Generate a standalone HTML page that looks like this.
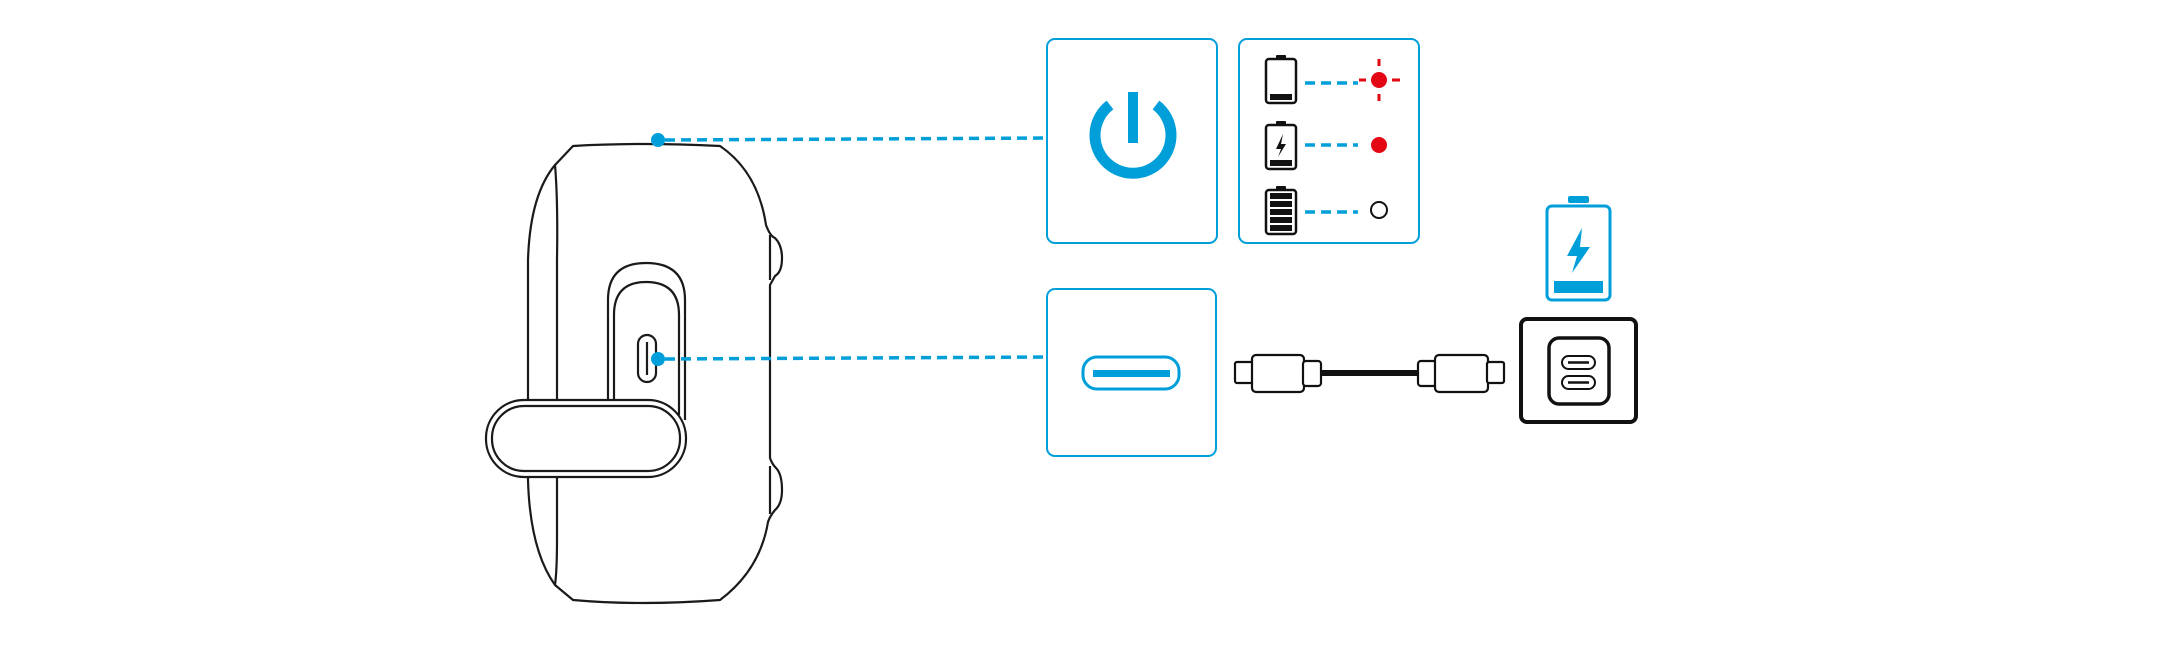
<!DOCTYPE html>
<html><head><meta charset="utf-8"><style>html,body{margin:0;padding:0;background:#fff}svg{display:block}</style></head>
<body>
<svg width="2180" height="648" viewBox="0 0 2180 648" xmlns="http://www.w3.org/2000/svg">
<g fill="none" stroke="#1a1a1a" stroke-width="2.2" stroke-linejoin="round">
 <!-- device body -->
 <path d="M573,146 Q640,142 720,146 Q758,172 766,225 Q770,236 775,238 Q782,245 782,258 Q782,272 775,276 L770,285 L770,458 Q772,464 776,468 Q782,474 782,490 Q782,504 775,510 Q770,516 768,522 Q760,570 720,600 Q640,606 573,600 L555,585 Q530,550 528,480 L528,260 Q530,195 555,165 Z"/>
 <path d="M555,165 Q558,200 557,260 L557,400"/>
 <path d="M557,477 L557,540 Q557,570 555,585"/>
 <path d="M770,235 L770,280 M770,466 L770,514"/>
 <!-- slot -->
 <path d="M608,400 L608,300 Q608,263 646,263 Q685,263 685,300 L685,420"/>
 <path d="M614,400 L614,315 Q614,282 646,282 Q679,282 679,315 L679,415"/>
 <rect x="638" y="335" width="18" height="47" rx="9"/>
 <line x1="647" y1="342" x2="647" y2="375"/>
 <!-- strap -->
 <rect x="486" y="400" width="200" height="77" rx="38" fill="#fff"/>
 <rect x="492" y="406" width="188" height="65" rx="32"/>
</g>
<!-- dashed connectors -->
<g stroke="#009fda" stroke-width="3.5" stroke-dasharray="10 6" fill="none">
 <line x1="665" y1="140" x2="1047" y2="138"/>
 <line x1="665" y1="359" x2="1047" y2="357"/>
 <line x1="1305" y1="83" x2="1358" y2="83"/>
 <line x1="1305" y1="145" x2="1358" y2="145"/>
 <line x1="1305" y1="212" x2="1358" y2="212"/>
</g>
<circle cx="658" cy="140" r="7" fill="#009fda"/>
<circle cx="658" cy="359" r="7" fill="#009fda"/>
<!-- boxes -->
<g fill="none" stroke="#009fda" stroke-width="2">
 <rect x="1047" y="39" width="170" height="204" rx="8"/>
 <rect x="1239" y="39" width="180" height="204" rx="8"/>
 <rect x="1047" y="289" width="169" height="167" rx="8"/>
</g>
<!-- power symbol -->
<path d="M1110,105 A38,38 0 1 0 1156,105" fill="none" stroke="#009fda" stroke-width="11"/>
<rect x="1128" y="92" width="10" height="51" fill="#009fda"/>
<!-- usb-c icon -->
<rect x="1083" y="357" width="96" height="32" rx="14" fill="none" stroke="#009fda" stroke-width="3"/>
<rect x="1093" y="370" width="77" height="7" fill="#009fda"/>
<!-- batteries -->
<g stroke="#111" stroke-width="2.5" fill="none">
 <rect x="1266" y="59" width="30" height="44" rx="3"/>
 <rect x="1266" y="125" width="30" height="44" rx="3"/>
 <rect x="1266" y="190" width="30" height="44" rx="3"/>
</g>
<g fill="#111">
 <rect x="1276" y="55" width="10" height="4" rx="1"/>
 <rect x="1276" y="121" width="10" height="4" rx="1"/>
 <rect x="1276" y="186" width="10" height="4" rx="1"/>
 <rect x="1270" y="94" width="22" height="6"/>
 <rect x="1270" y="160" width="22" height="6"/>
 <path d="M1283,134 L1276,149 L1281,149 L1278,157 L1286,144 L1281,144 Z"/>
 <rect x="1270" y="193" width="22" height="6"/>
 <rect x="1270" y="201" width="22" height="6"/>
 <rect x="1270" y="209" width="22" height="6"/>
 <rect x="1270" y="217" width="22" height="6"/>
 <rect x="1270" y="225" width="22" height="6"/>
</g>
<!-- indicators -->
<circle cx="1379" cy="80" r="8" fill="#e30613"/>
<g stroke="#e30613" stroke-width="3">
 <line x1="1379" y1="59" x2="1379" y2="66"/>
 <line x1="1379" y1="94" x2="1379" y2="101"/>
 <line x1="1359" y1="80" x2="1366" y2="80"/>
 <line x1="1392" y1="80" x2="1400" y2="80"/>
</g>
<circle cx="1379" cy="145" r="8" fill="#e30613"/>
<circle cx="1379" cy="210" r="8" fill="none" stroke="#111" stroke-width="2"/>
<!-- blue battery -->
<rect x="1568" y="196" width="21" height="7" rx="2" fill="#009fda"/>
<rect x="1547" y="206" width="63" height="94" rx="5" fill="none" stroke="#009fda" stroke-width="3"/>
<rect x="1554" y="281" width="49" height="12" fill="#009fda"/>
<path d="M1582,228 L1567,256 L1577,256 L1572,273 L1590,247 L1580,247 Z" fill="#009fda"/>
<!-- cable -->
<g stroke="#111" stroke-width="2.2" fill="#fff">
 <rect x="1235" y="362" width="18" height="21" rx="2"/>
 <rect x="1252" y="355" width="52" height="37" rx="4"/>
 <rect x="1303" y="361" width="18" height="25" rx="3"/>
 <rect x="1418" y="361" width="18" height="25" rx="3"/>
 <rect x="1435" y="355" width="53" height="37" rx="4"/>
 <rect x="1487" y="362" width="17" height="21" rx="2"/>
</g>
<rect x="1321" y="370" width="97" height="6" fill="#111"/>
<!-- outlet -->
<rect x="1521" y="319" width="115" height="103" rx="6" fill="none" stroke="#111" stroke-width="4"/>
<rect x="1549" y="338" width="60" height="66" rx="10" fill="none" stroke="#111" stroke-width="3.5"/>
<g fill="none" stroke="#111" stroke-width="2">
 <rect x="1562" y="356" width="33" height="13" rx="6.5"/>
 <rect x="1562" y="376" width="33" height="13" rx="6.5"/>
</g>
<g stroke="#111" stroke-width="2.5">
 <line x1="1568" y1="362.5" x2="1589" y2="362.5"/>
 <line x1="1568" y1="382.5" x2="1589" y2="382.5"/>
</g>
</svg>
</body></html>
